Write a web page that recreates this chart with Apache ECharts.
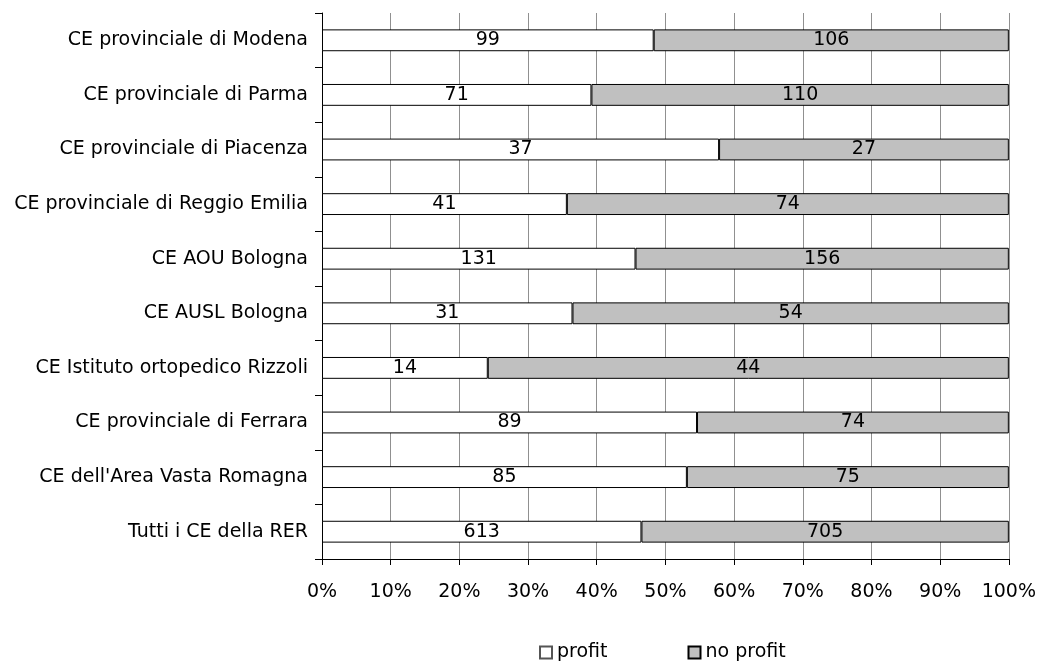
<!DOCTYPE html>
<html><head><meta charset="utf-8">
<script src="https://cdn.jsdelivr.net/npm/echarts@6/dist/echarts.min.js"></script>
<style>html,body{margin:0;padding:0;background:#fff}#c{width:1039px;height:661px}</style>
</head><body><div id="c"></div>
<script>
const categories = [
  "CE provinciale di Modena",
  "CE provinciale di Parma",
  "CE provinciale di Piacenza",
  "CE provinciale di Reggio Emilia",
  "CE AOU Bologna",
  "CE AUSL Bologna",
  "CE Istituto ortopedico Rizzoli",
  "CE provinciale di Ferrara",
  "CE dell'Area Vasta Romagna",
  "Tutti i CE della RER"
];
const profit = [99, 71, 37, 41, 131, 31, 14, 89, 85, 613];
const noProfit = [106, 110, 27, 74, 156, 54, 44, 74, 75, 705];
const xTicks = [0,10,20,30,40,50,60,70,80,90,100];

const FONT = "DejaVu Sans";
const FS = 19;
const cats = categories.slice().reverse();
const p = profit.slice().reverse();
const n = noProfit.slice().reverse();
const pPct = p.map((v,i)=>({value: v/(v+n[i])*100, raw: v}));
const nPct = n.map((v,i)=>({value: v/(p[i]+v)*100, raw: v}));

const chart = echarts.init(document.getElementById('c'), null, {renderer:'canvas'});
const lbl = {show:true, position:'inside', color:'#000', fontFamily:FONT, fontSize:FS, formatter: d=>d.data.raw};
chart.setOption({
  animation:false,
  textStyle:{fontFamily:FONT},
  grid:{left:322, right:30, top:13, bottom:102, containLabel:false},
  xAxis:{type:'value', min:0, max:100, interval:10,
    axisLine:{show:true, lineStyle:{color:'#000', width:1}},
    axisTick:{show:true, length:6, lineStyle:{color:'#000'}},
    axisLabel:{formatter: v=>v+'%', color:'#000', fontFamily:FONT, fontSize:FS, margin:24},
    splitLine:{show:true, lineStyle:{color:'#909090', width:1}}
  },
  yAxis:{type:'category', data:cats,
    axisLine:{show:true, lineStyle:{color:'#000', width:1}},
    axisTick:{show:true, length:7, lineStyle:{color:'#000'}},
    axisLabel:{color:'#000', fontFamily:FONT, fontSize:FS, margin:14}
  },
  legend:{top:638, left:534, itemWidth:12, itemHeight:12, itemGap:80,
    textStyle:{color:'#000', fontFamily:FONT, fontSize:FS},
    data:[{name:'profit', icon:'rect', itemStyle:{borderColor:'#555'}},{name:'no profit', icon:'rect'}]},
  series:[
    {name:'profit', type:'bar', stack:'s', data:pPct, barCategoryGap:'60%',
     itemStyle:{color:'#fff', borderColor:'#000', borderWidth:1}, label:lbl},
    {name:'no profit', type:'bar', stack:'s', data:nPct,
     itemStyle:{color:'#c0c0c0', borderColor:'#000', borderWidth:1}, label:lbl}
  ]
});
</script></body></html>
